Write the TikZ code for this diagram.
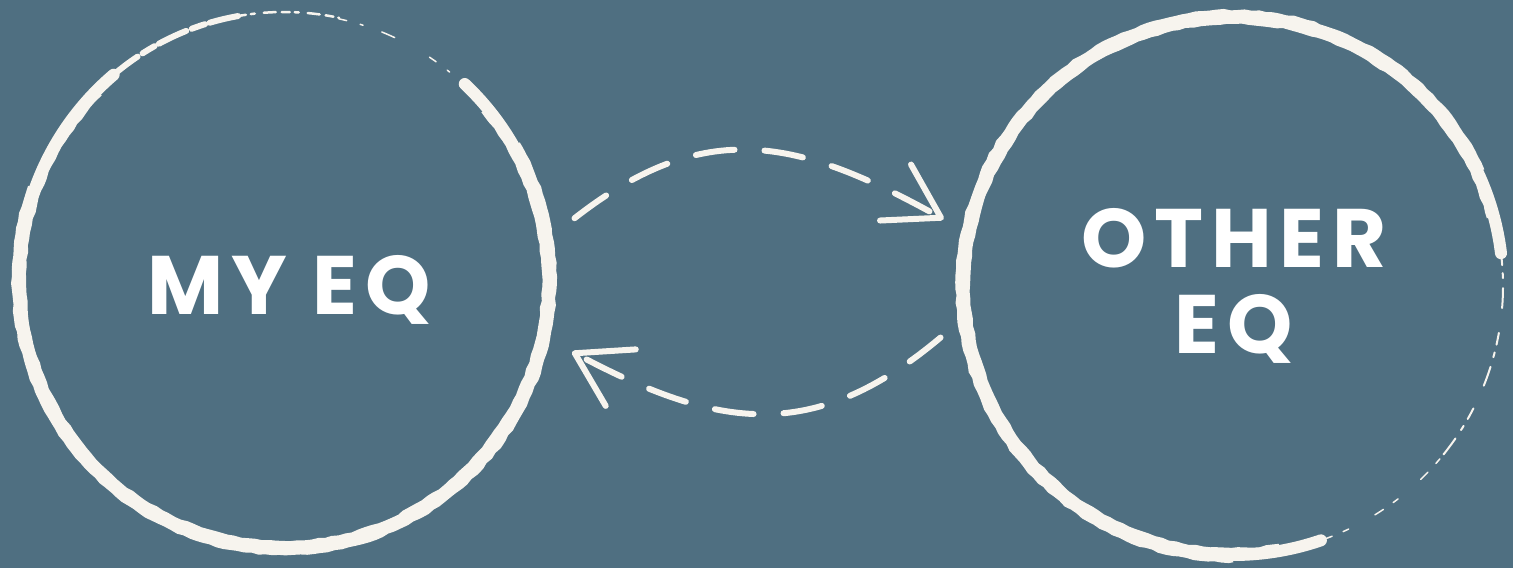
\documentclass[tikz,border=0pt]{standalone}
\usepackage{fontspec}
\newfontfamily\labfont{Poppins}[LetterSpace=9.5]
\usetikzlibrary{arrows.meta,decorations.pathmorphing}
\definecolor{bg}{HTML}{4F6F81}
\definecolor{chalk}{HTML}{F7F4EE}
\tikzset{
  anchorcircle/.style={circle, minimum size=540pt, inner sep=0pt, outer sep=27pt},
  brush/.style={draw=chalk, line width=12pt, line cap=round},
  rough/.style={draw=chalk, line width=2.5pt, decorate, decoration={random steps, segment length=7pt, amplitude=0.8pt}},
  label/.style={font=\labfont\bfseries\fontsize{83}{86}\selectfont, text=white, align=center, inner sep=0pt},
  conn/.style={draw=chalk, line width=6pt, line cap=round, dash pattern=on 39pt off 30pt,
    -{Straight Barb[length=52pt, width=64pt, line width=6pt, round]}},
}
\begin{document}
\begin{tikzpicture}[x=1pt,y=1pt]
\fill[bg] (0,0) rectangle (1513,568);
\useasboundingbox (0,0) rectangle (1513,568);

% anchor circles
\node[anchorcircle] (L) at (284,288) {};
\node[anchorcircle] (R) at (1233,282) {};

% left rough circle
\path[brush] (L.center) ++(47:265 and 268) arc[start angle=47, end angle=-230, x radius=265, y radius=268];
\path[rough] (L.center) ++(40:259 and 262) arc[start angle=40, end angle=-225, x radius=259, y radius=262];
\path[rough] (L.center) ++(30:271 and 274) arc[start angle=30, end angle=-200, x radius=271, y radius=274];
\path[draw=chalk, line width=6pt, line cap=round, dash pattern=on 30pt off 6pt on 14pt off 5pt]
  (L.center) ++(130:265 and 268) arc[start angle=130, end angle=100, x radius=265, y radius=268];
\path[draw=chalk, line width=2.5pt, line cap=round, dash pattern=on 8pt off 5pt on 4pt off 9pt on 12pt off 6pt]
  (L.center) ++(100:265 and 268) arc[start angle=100, end angle=78, x radius=265, y radius=268];
\path[draw=chalk, line width=1.5pt, line cap=round, dash pattern=on 8pt off 14pt on 3pt off 20pt on 14pt off 40pt]
  (L.center) ++(78:264 and 267) arc[start angle=78, end angle=50, x radius=264, y radius=267];

% right rough circle
\path[brush] (R.center) ++(7:270 and 269) arc[start angle=7, end angle=289, x radius=270, y radius=269];
\path[rough] (R.center) ++(15:264 and 263) arc[start angle=15, end angle=280, x radius=264, y radius=263];
\path[rough] (R.center) ++(25:276 and 275) arc[start angle=25, end angle=270, x radius=276, y radius=275];
\path[draw=chalk, line width=2pt, line cap=round, dash pattern=on 12pt off 8pt on 5pt off 10pt on 20pt off 25pt]
  (R.center) ++(7:270 and 269) arc[start angle=7, end angle=-40, x radius=270, y radius=269];
\path[draw=chalk, line width=1.5pt, line cap=round, dash pattern=on 6pt off 12pt on 10pt off 30pt]
  (R.center) ++(-40:270 and 269) arc[start angle=-40, end angle=-70, x radius=270, y radius=269];

% labels
\node[label] (lt) at (289,278) {MY EQ};
\node[label] (rt) at (1234,282) {OTHER\\EQ};

% connectors
\draw[conn] (L.12) to[out=38, in=151, looseness=1.15] (R.167);
\draw[conn] (R.190) to[out=220, in=-28, looseness=1.15] (L.-14);
\end{tikzpicture}
\end{document}
